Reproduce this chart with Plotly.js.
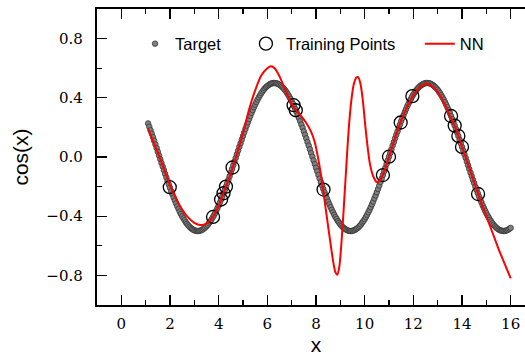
<!DOCTYPE html>
<html>
<head>
<meta charset="utf-8">
<script src="https://cdn.plot.ly/plotly-3.0.1.min.js"></script>
<style>
  html, body { margin: 0; padding: 0; overflow: hidden; background: #fff; }
  #chart { width: 536px; height: 356px; }
</style>
</head>
<body>
<div id="chart"></div>
<script>
// Target samples
const targetX = [
  1.10,1.15,1.20,1.25,1.30,1.35,1.40,1.45,1.50,1.55,1.60,1.65,1.70,1.75,1.80,1.85,1.90,1.95,
  2.00,2.05,2.10,2.15,2.20,2.25,2.30,2.35,2.40,2.45,2.50,2.55,2.60,2.65,2.70,2.75,2.80,2.85,2.90,2.95,
  3.00,3.05,3.10,3.15,3.20,3.25,3.30,3.35,3.40,3.45,3.50,3.55,3.60,3.65,3.70,3.75,3.80,3.85,3.90,3.95,
  4.00,4.05,4.10,4.15,4.20,4.25,4.30,4.35,4.40,4.45,4.50,4.55,4.60,4.65,4.70,4.75,4.80,4.85,4.90,4.95,
  5.00,5.05,5.10,5.15,5.20,5.25,5.30,5.35,5.40,5.45,5.50,5.55,5.60,5.65,5.70,5.75,5.80,5.85,5.90,5.95,
  6.00,6.05,6.10,6.15,6.20,6.25,6.30,6.35,6.40,6.45,6.50,6.55,6.60,6.65,6.70,6.75,6.80,6.85,6.90,6.95,
  7.00,7.05,7.10,7.15,7.20,7.25,7.30,7.35,7.40,7.45,7.50,7.55,7.60,7.65,7.70,7.75,7.80,7.85,7.90,7.95,
  8.00,8.05,8.10,8.15,8.20,8.25,8.30,8.35,8.40,8.45,8.50,8.55,8.60,8.65,8.70,8.75,8.80,8.85,8.90,8.95,
  9.00,9.05,9.10,9.15,9.20,9.25,9.30,9.35,9.40,9.45,9.50,9.55,9.60,9.65,9.70,9.75,9.80,9.85,9.90,9.95,
  10.00,10.05,10.10,10.15,10.20,10.25,10.30,10.35,10.40,10.45,10.50,10.55,10.60,10.65,10.70,10.75,10.80,10.85,10.90,10.95,
  11.00,11.05,11.10,11.15,11.20,11.25,11.30,11.35,11.40,11.45,11.50,11.55,11.60,11.65,11.70,11.75,11.80,11.85,11.90,11.95,
  12.00,12.05,12.10,12.15,12.20,12.25,12.30,12.35,12.40,12.45,12.50,12.55,12.60,12.65,12.70,12.75,12.80,12.85,12.90,12.95,
  13.00,13.05,13.10,13.15,13.20,13.25,13.30,13.35,13.40,13.45,13.50,13.55,13.60,13.65,13.70,13.75,13.80,13.85,13.90,13.95,
  14.00,14.05,14.10,14.15,14.20,14.25,14.30,14.35,14.40,14.45,14.50,14.55,14.60,14.65,14.70,14.75,14.80,14.85,14.90,14.95,
  15.00,15.05,15.10,15.15,15.20,15.25,15.30,15.35,15.40,15.45,15.50,15.55,15.60,15.65,15.70,15.75,15.80,15.85,15.90,15.95,
  16.00
];
const targetY = [
  0.227,0.204,0.181,0.158,0.134,0.110,0.085,0.060,0.035,0.010,-0.015,-0.040,-0.064,-0.089,-0.114,-0.138,-0.162,-0.185,
  -0.208,-0.231,-0.252,-0.274,-0.294,-0.314,-0.333,-0.351,-0.369,-0.385,-0.401,-0.415,-0.428,-0.441,-0.452,-0.462,-0.471,-0.479,-0.486,-0.491,
  -0.495,-0.498,-0.500,-0.500,-0.499,-0.497,-0.494,-0.489,-0.483,-0.476,-0.468,-0.459,-0.448,-0.437,-0.424,-0.410,-0.396,-0.380,-0.363,-0.345,
  -0.327,-0.307,-0.287,-0.267,-0.245,-0.223,-0.200,-0.177,-0.154,-0.130,-0.105,-0.081,-0.056,-0.031,-0.006,0.019,0.044,0.069,0.093,0.118,
  0.142,0.166,0.189,0.212,0.234,0.256,0.277,0.298,0.317,0.336,0.354,0.371,0.388,0.403,0.417,0.431,0.443,0.454,0.464,0.473,
  0.480,0.486,0.492,0.496,0.498,0.500,0.500,0.499,0.497,0.493,0.488,0.482,0.475,0.467,0.457,0.447,0.435,0.422,0.408,0.393,
  0.377,0.360,0.342,0.324,0.304,0.284,0.263,0.242,0.219,0.197,0.173,0.150,0.126,0.101,0.077,0.052,0.027,0.002,-0.023,-0.048,
  -0.073,-0.097,-0.122,-0.146,-0.170,-0.193,-0.216,-0.238,-0.260,-0.280,-0.301,-0.320,-0.339,-0.357,-0.374,-0.390,-0.406,-0.419,-0.433,-0.444,
  -0.456,-0.465,-0.474,-0.481,-0.487,-0.492,-0.496,-0.499,-0.500,-0.500,-0.499,-0.496,-0.492,-0.487,-0.481,-0.474,-0.465,-0.456,-0.443,-0.433,
  -0.420,-0.405,-0.390,-0.374,-0.357,-0.339,-0.320,-0.301,-0.280,-0.260,-0.238,-0.216,-0.193,-0.169,-0.146,-0.122,-0.097,-0.073,-0.048,-0.023,
  0.002,0.027,0.052,0.077,0.101,0.126,0.150,0.173,0.197,0.219,0.242,0.263,0.284,0.304,0.323,0.343,0.360,0.377,0.392,0.408,
  0.422,0.435,0.447,0.457,0.467,0.475,0.482,0.488,0.493,0.497,0.499,0.500,0.500,0.498,0.496,0.492,0.486,0.480,0.472,0.464,
  0.454,0.443,0.430,0.417,0.403,0.388,0.371,0.354,0.336,0.317,0.297,0.277,0.256,0.234,0.212,0.189,0.165,0.142,0.117,0.093,
  0.068,0.044,0.019,-0.006,-0.031,-0.056,-0.081,-0.106,-0.130,-0.154,-0.177,-0.201,-0.223,-0.245,-0.267,-0.288,-0.307,-0.327,-0.345,-0.363,
  -0.380,-0.396,-0.410,-0.424,-0.436,-0.448,-0.459,-0.468,-0.476,-0.483,-0.489,-0.494,-0.497,-0.499,-0.500,-0.500,-0.498,-0.495,-0.491,-0.485,
  -0.479
];

// Training points
const trainX = [1.99,3.77,4.10,4.20,4.30,4.57,7.08,7.17,8.31,10.75,11.00,11.48,11.96,13.55,13.70,13.85,14.00,14.66];
const trainY = [-0.204,-0.405,-0.287,-0.245,-0.200,-0.071,0.350,0.316,-0.220,-0.122,0.002,0.233,0.411,0.277,0.212,0.142,0.068,-0.250];

// NN prediction
const nnX = [
  1.1,1.3,1.5,1.75,2.0,2.25,2.5,2.75,3.0,3.25,3.5,3.75,4.0,4.25,4.5,4.75,5.0,5.25,5.5,5.75,
  6.0,6.15,6.3,6.5,6.75,7.0,7.2,7.4,7.6,7.8,7.95,8.1,8.25,8.4,8.55,8.7,8.8,8.87,8.95,9.05,
  9.15,9.25,9.35,9.45,9.55,9.65,9.73,9.82,9.92,10.02,10.12,10.22,10.35,10.5,10.6,10.75,11.0,11.25,11.5,11.75,
  12.0,12.25,12.55,12.75,13.0,13.25,13.5,13.75,14.0,14.25,14.5,14.75,15.0,15.25,15.5,15.75,16.0
];
const nnY = [
  0.19,0.11,0.03,-0.08,-0.19,-0.28,-0.355,-0.41,-0.445,-0.46,-0.45,-0.41,-0.33,-0.22,-0.11,0.02,0.16,0.32,0.45,0.55,
  0.60,0.613,0.60,0.545,0.45,0.36,0.31,0.275,0.23,0.17,0.10,-0.02,-0.17,-0.35,-0.53,-0.70,-0.78,-0.795,-0.75,-0.57,
  -0.32,-0.05,0.20,0.38,0.49,0.535,0.54,0.50,0.39,0.22,0.07,-0.05,-0.13,-0.17,-0.165,-0.12,0.0,0.13,0.245,0.34,
  0.415,0.47,0.495,0.48,0.44,0.37,0.28,0.19,0.07,-0.05,-0.17,-0.29,-0.40,-0.51,-0.62,-0.72,-0.82
];

const xTickVals = [0,2,4,6,8,10,12,14,16];
const yTickVals = [-0.8,-0.4,0.0,0.4,0.8];

const traces = [
  {
    x: targetX, y: targetY, type: 'scatter', mode: 'markers', name: 'Target',
    marker: {size: 5.5, color: '#808080', line: {color: '#333333', width: 0.8}},
    legend: 'legend'
  },
  {
    x: trainX, y: trainY, type: 'scatter', mode: 'markers', name: 'Training Points',
    marker: {size: 13, symbol: 'circle-open', color: '#000', line: {color: '#000', width: 1.3}},
    legend: 'legend2'
  },
  {
    x: nnX, y: nnY, type: 'scatter', mode: 'lines', name: 'NN',
    line: {color: '#ff0000', width: 2, shape: 'spline', smoothing: 0.8},
    legend: 'legend3'
  }
];

const tickFont = {family: 'DejaVu Serif', size: 15, color: '#000'};
const legFont = {family: 'Liberation Sans, Arial, sans-serif', size: 16.5, color: '#000'};
const titleFont = {family: 'Liberation Sans, Arial, sans-serif', size: 21, color: '#000'};

const axisCommon = {
  showline: true, linecolor: '#000', linewidth: 2.2, mirror: 'ticks',
  ticks: 'inside', ticklen: 10, tickwidth: 1.3, tickcolor: '#000',
  showgrid: false, zeroline: false, tickfont: tickFont
};

const layout = {
  width: 536, height: 356,
  margin: {l: 97, r: 1, t: 9, b: 51},
  paper_bgcolor: '#fff', plot_bgcolor: '#fff',
  showlegend: true,
  xaxis: Object.assign({}, axisCommon, {
    range: [-1, 17], tickvals: xTickVals, ticklabelstandoff: 4,
    minor: {ticks: 'inside', ticklen: 5, tickwidth: 1.1, tickcolor: '#000', dtick: 1, tick0: 0, showgrid: false},
    title: {text: 'x', font: titleFont, standoff: 7}
  }),
  yaxis: Object.assign({}, axisCommon, {
    range: [-1, 1], tickvals: yTickVals, tickformat: '.1f', ticklabelstandoff: 9,
    minor: {ticks: 'inside', ticklen: 5, tickwidth: 1.1, tickcolor: '#000', dtick: 0.2, tick0: 0, showgrid: false},
    title: {text: 'cos(x)', font: titleFont, standoff: 12}
  }),
  legend: {x: 0.0868, y: 0.882, xanchor: 'left', yanchor: 'middle', bgcolor: 'rgba(0,0,0,0)', borderwidth: 0, font: legFont},
  legend2: {x: 0.340, y: 0.882, xanchor: 'left', yanchor: 'middle', bgcolor: 'rgba(0,0,0,0)', borderwidth: 0, font: legFont},
  legend3: {x: 0.737, y: 0.882, xanchor: 'left', yanchor: 'middle', bgcolor: 'rgba(0,0,0,0)', borderwidth: 0, font: legFont}
};

Plotly.newPlot('chart', traces, layout, {displayModeBar: false, staticPlot: true});
</script>
</body>
</html>
